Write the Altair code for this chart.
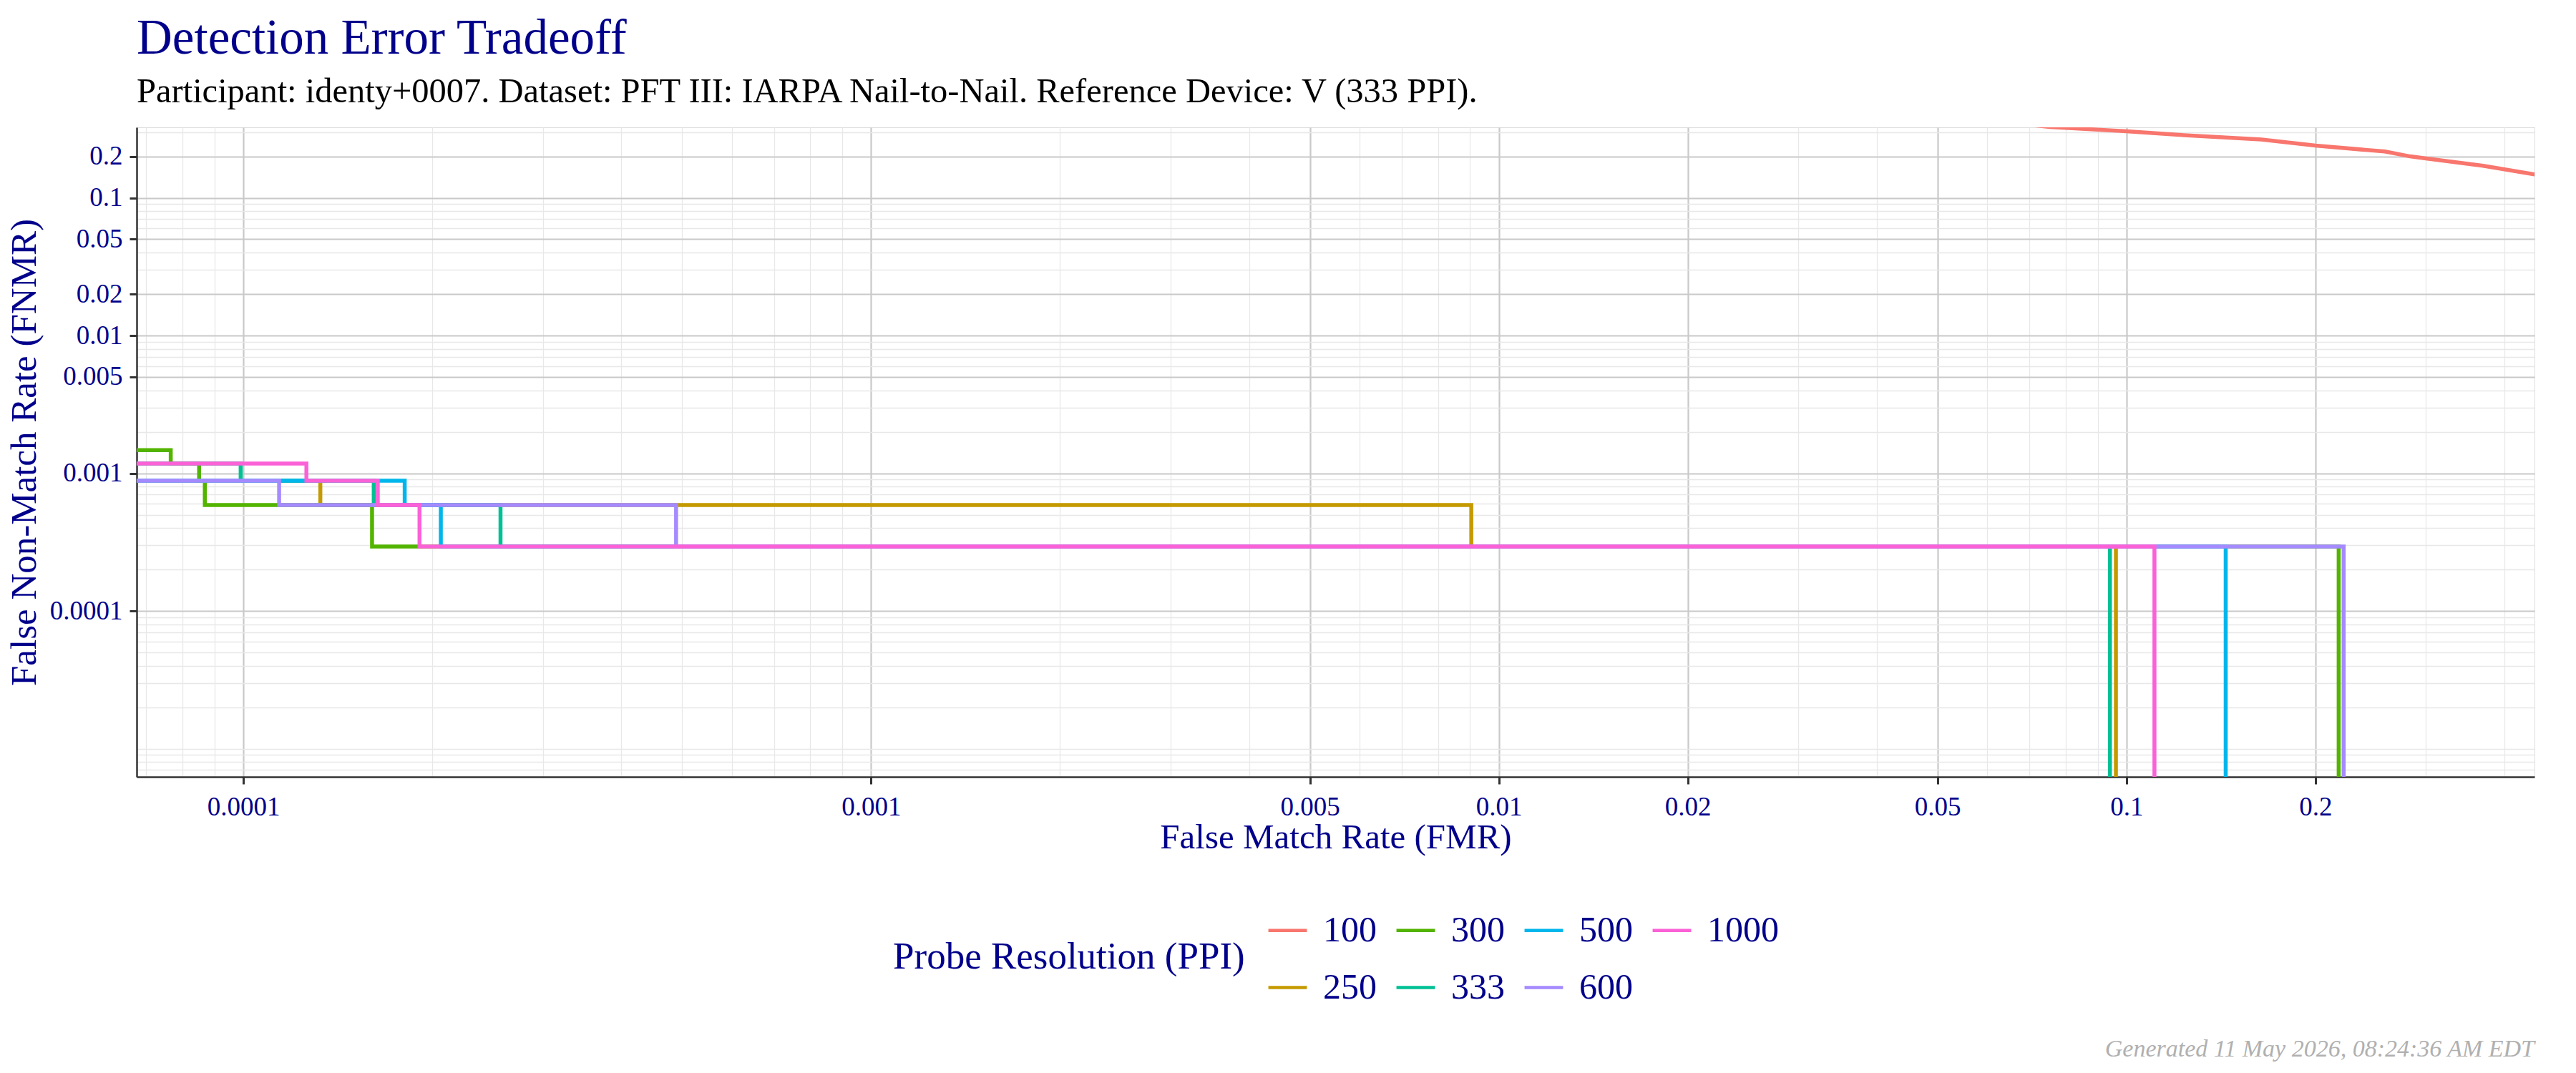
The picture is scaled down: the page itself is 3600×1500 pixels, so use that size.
import altair as alt
import pandas as pd

# ---------------- data ----------------
TITLE = "Detection Error Tradeoff"
SUBTITLE = "Participant: identy+0007. Dataset: PFT III: IARPA Nail-to-Nail. Reference Device: V (333 PPI)."
FOOTER = "Generated 11 May 2026, 08:24:36 AM EDT"

DRAW_ORDER = ["100", "250", "300", "333", "500", "600", "1000"]
LEGEND_ORDER = ["100", "300", "500", "1000", "250", "333", "600"]
PALETTE = {"100": "#F8766D", "250": "#C49A00", "300": "#53B400", "333": "#00C094",
           "500": "#00B6EB", "600": "#A58AFF", "1000": "#FB61D7"}

FLOOR = 1e-7  # stands in for a rate of 0 on the log axes

# 100 PPI (smooth curve in the upper right)
fmr_100 = [0.05, 0.0755, 0.1, 0.1213, 0.164, 0.2, 0.258, 0.283, 0.300, 0.370, 0.4467, 0.5]
fnmr_100 = [0.40, 0.327, 0.304, 0.2866, 0.2655, 0.2394, 0.2168, 0.200, 0.193, 0.171, 0.148, 0.14]

# step curves (value holds from this FMR until the next one)
fmr_250 = [FLOOR, 1.326e-4, 0.00904, 0.0962]
fnmr_250 = [0.000882, 0.000588, 0.000294, FLOOR]

fmr_300 = [FLOOR, 7.66e-5, 8.5e-5, 8.68e-5, 1.603e-4, 0.2178]
fnmr_300 = [0.00147, 0.001176, 0.000882, 0.000588, 0.000294, FLOOR]

fmr_333 = [FLOOR, 9.9e-5, 1.613e-4, 2.568e-4, 0.0941]
fnmr_333 = [0.001176, 0.000882, 0.000588, 0.000294, FLOOR]

fmr_500 = [FLOOR, 1.807e-4, 2.063e-4, 0.1439]
fnmr_500 = [0.000882, 0.000588, 0.000294, FLOOR]

fmr_600 = [FLOOR, 1.14e-4, 4.89e-4, 0.2218]
fnmr_600 = [0.000882, 0.000588, 0.000294, FLOOR]

fmr_1000 = [FLOOR, 1.26e-4, 1.637e-4, 1.908e-4, 0.1108]
fnmr_1000 = [0.001176, 0.000882, 0.000588, 0.000294, FLOOR]

X_MAJOR = [0.0001, 0.001, 0.005, 0.01, 0.02, 0.05, 0.1, 0.2]
X_MINOR = [7e-5, 8e-5, 9e-5, 2e-4, 3e-4, 4e-4, 5e-4, 6e-4, 7e-4, 8e-4, 9e-4,
           0.002, 0.003, 0.004, 0.006, 0.007, 0.008, 0.009, 0.03, 0.04,
           0.06, 0.07, 0.08, 0.09, 0.3, 0.4]
Y_MAJOR = [0.0001, 0.001, 0.005, 0.01, 0.02, 0.05, 0.1, 0.2]
Y_MINOR = [7e-6, 8e-6, 9e-6, 1e-5, 2e-5, 3e-5, 4e-5, 5e-5, 6e-5, 7e-5, 8e-5, 9e-5,
           2e-4, 3e-4, 4e-4, 5e-4, 6e-4, 7e-4, 8e-4, 9e-4,
           0.002, 0.003, 0.004, 0.006, 0.007, 0.008, 0.009, 0.03, 0.04,
           0.06, 0.07, 0.08, 0.09, 0.3]
X_DOMAIN = [6.76e-5, 0.4467]
Y_DOMAIN = [6.24e-6, 0.325]

series = {
    "100": (fmr_100, fnmr_100), "250": (fmr_250, fnmr_250), "300": (fmr_300, fnmr_300),
    "333": (fmr_333, fnmr_333), "500": (fmr_500, fnmr_500), "600": (fmr_600, fnmr_600),
    "1000": (fmr_1000, fnmr_1000),
}
rows = []
for ppi, (xs, ys) in series.items():
    for i, (a, b) in enumerate(zip(xs, ys)):
        rows.append({"ppi": ppi, "fmr": a, "fnmr": b, "i": i})
df = pd.DataFrame(rows)

# ---------------- styling ----------------
SERIF = "Liberation Serif"
NAVY = "#00008B"
PLOT_W, PLOT_H = 3351, 908


def major_test(vals):
    return "indexof([" + ",".join(repr(v) for v in vals) + "], datum.value) >= 0"


def make_axis(major, minor, title, title_size, **kw):
    test = major_test(major)
    return alt.Axis(
        values=sorted(major + minor),
        labelExpr=f"({test}) ? format(datum.value, '~g') : ''",
        gridColor={"condition": {"test": test, "value": "#C9C9C9"}, "value": "#E8E8E8"},
        gridWidth={"condition": {"test": test, "value": 2.2}, "value": 1.3},
        tickOpacity={"condition": {"test": test, "value": 1}, "value": 0},
        tickSize=10, tickWidth=3, tickColor="#333333",
        domainColor="#333333", domainWidth=2.5,
        labelFont=SERIF, labelFontSize=37, labelColor=NAVY,
        labelOverlap=False, labelFlush=False, labelBound=False,
        title=title, titleFont=SERIF, titleFontSize=title_size, titleColor=NAVY,
        titleFontWeight="normal", **kw,
    )


x_enc = alt.X("fmr:Q", scale=alt.Scale(type="log", domain=X_DOMAIN),
              axis=make_axis(X_MAJOR, X_MINOR, "False Match Rate (FMR)", 49,
                             labelPadding=14, titlePadding=0))
y_enc = alt.Y("fnmr:Q", scale=alt.Scale(type="log", domain=Y_DOMAIN),
              axis=make_axis(Y_MAJOR, Y_MINOR, "False Non-Match Rate (FNMR)", 51,
                             labelPadding=10, titlePadding=9))
color_enc = alt.Color(
    "ppi:N",
    scale=alt.Scale(domain=LEGEND_ORDER, range=[PALETTE[p] for p in LEGEND_ORDER]),
    legend=alt.Legend(
        title="Probe Resolution (PPI)", orient="none", legendX=1057, legendY=1093,
        direction="horizontal", columns=4, titleOrient="left", titleAnchor="middle",
        titleBaseline="middle", titleFont=SERIF, titleFontSize=53, titleFontWeight="normal",
        titleColor=NAVY, titlePadding=30, titleLimit=2000,
        labelFont=SERIF, labelFontSize=50, labelColor=NAVY, labelLimit=500,
        symbolType="stroke", symbolSize=2900, symbolStrokeWidth=4.6,
        labelOffset=20, columnPadding=18, rowPadding=25,
    ),
)

base = alt.Chart(df)
layers = []
for ppi in DRAW_ORDER:
    interp = "linear" if ppi == "100" else "step-after"
    layers.append(
        base.transform_filter(alt.datum.ppi == ppi)
        .mark_line(interpolate=interp, strokeWidth=5.5, clip=True)
        .encode(x=x_enc, y=y_enc, color=color_enc, order="i:Q")
    )

footer = alt.Chart(pd.DataFrame({"t": [FOOTER]})).mark_text(
    align="right", baseline="alphabetic", font=SERIF, fontStyle="italic",
    fontSize=34, color="#B0B0B0",
).encode(text="t:N", x=alt.value(PLOT_W), y=alt.value(PLOT_H + 391))

chart = alt.layer(*layers, footer).properties(
    width=PLOT_W, height=PLOT_H,
    title=alt.TitleParams(
        TITLE, subtitle=SUBTITLE, anchor="start", frame="group",
        font=SERIF, fontSize=69, fontWeight="normal", color=NAVY,
        subtitleFont=SERIF, subtitleFontSize=48.5, subtitleColor="black",
        subtitlePadding=16, offset=13,
    ),
    padding={"left": 8, "top": 20, "right": 10, "bottom": 10},
).configure_view(stroke="#333333", strokeWidth=2.5).configure(background="white")

chart.save("out.html", embed_options={"renderer": "svg", "actions": False})
